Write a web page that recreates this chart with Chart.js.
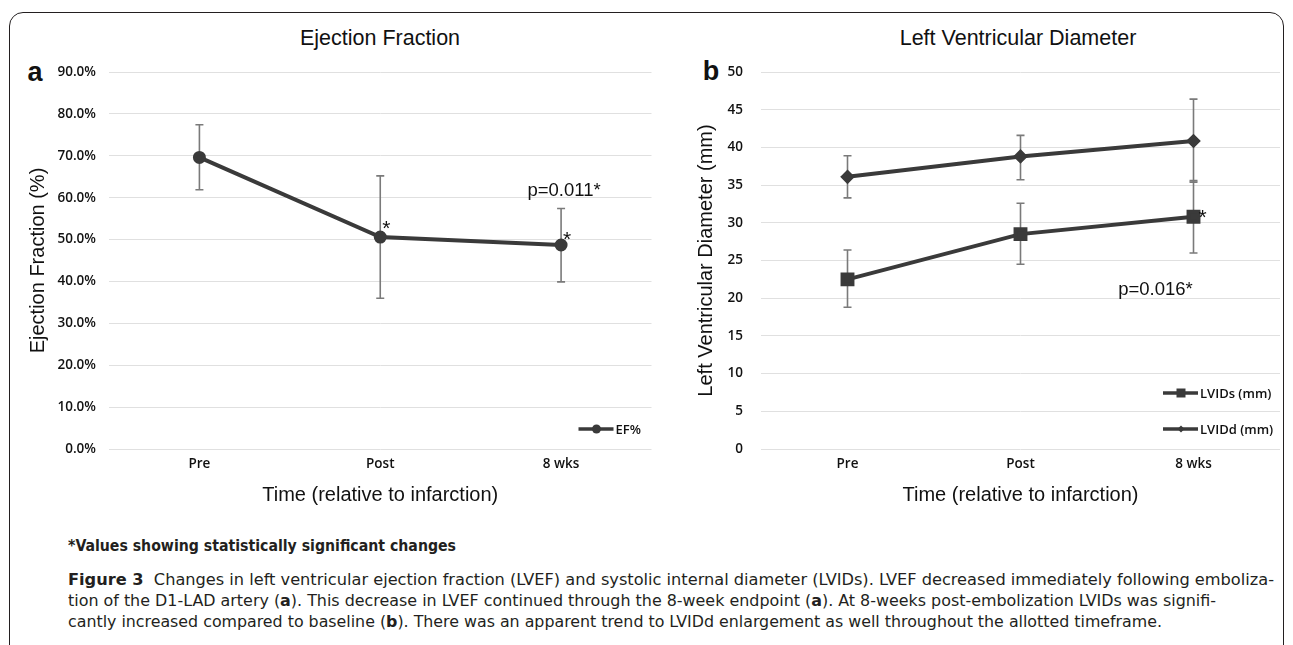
<!DOCTYPE html>
<html><head><meta charset="utf-8">
<script src="https://cdn.jsdelivr.net/npm/chart.js@4"></script>
<style>
html,body{margin:0;padding:0;background:#fff;width:1293px;height:645px;overflow:hidden;position:relative;}
#frame{position:absolute;left:9px;top:12px;width:1275px;height:660px;border:1px solid #231f20;border-radius:14px;box-sizing:border-box;}
.t{position:absolute;font-family:"Liberation Sans",Arial,sans-serif;color:#111;white-space:nowrap;transform:translate(-50%,-50%);}
canvas{position:absolute;top:0;}
#c1{left:0}
#c2{left:640px}
.cap{position:absolute;left:68px;font-family:"Liberation Sans Narrow","DejaVu Sans Condensed","Open Sans",sans-serif;font-size:16px;color:#231f20;white-space:nowrap;transform-origin:0 50%;line-height:18px;}
</style></head>
<body>
<div id="frame"></div>
<div class="t" style="left:380px;top:38px;font-size:21.5px;">Ejection Fraction</div>
<div class="t" style="left:1018px;top:38px;font-size:21.5px;">Left Ventricular Diameter</div>
<div class="t" style="left:35px;top:72px;font-size:27px;font-weight:bold;">a</div>
<div class="t" style="left:711px;top:71px;font-size:27px;font-weight:bold;">b</div>
<canvas id="c1" width="660" height="520"></canvas>
<canvas id="c2" width="653" height="520"></canvas>
<div class="cap" id="fn" data-w="388" style="top:537px;font-weight:bold;">*Values showing statistically significant changes</div>
<div class="cap" id="l1" data-w="1206" style="top:571px;"><b>Figure 3</b>&nbsp; Changes in left ventricular ejection fraction (LVEF) and systolic internal diameter (LVIDs). LVEF decreased immediately following emboliza-</div>
<div class="cap" id="l2" data-w="1148" style="top:592px;">tion of the D1-LAD artery (<b>a</b>). This decrease in LVEF continued through the 8-week endpoint (<b>a</b>). At 8-weeks post-embolization LVIDs was signifi-</div>
<div class="cap" id="l3" data-w="1094" style="top:613px;">cantly increased compared to baseline (<b>b</b>). There was an apparent trend to LVIDd enlargement as well throughout the allotted timeframe.</div>
<script>
// ---- data ----
const categories = ['Pre', 'Post', '8 wks'];
const efMean = [69.6, 50.6, 48.7];
const efLow  = [61.9, 36.0, 39.9];
const efHigh = [77.4, 65.2, 57.4];
const lvidsMean = [22.5, 28.5, 30.8];
const lvidsLow  = [18.8, 24.5, 26.0];
const lvidsHigh = [26.4, 32.6, 35.6];
const lviddMean = [36.1, 38.8, 40.85];
const lviddLow  = [33.3, 35.7, 35.4];
const lviddHigh = [38.9, 41.6, 46.4];
const efTicksMax = 90, efStep = 10;
const lvTicksMax = 50, lvStep = 5;
const efSigIdx = [1, 2];
const lvidsSigIdx = [2];
const efPText = 'p=0.011*', efPValuePos = 61.7;
const lvPText = 'p=0.016*', lvPValuePos = 21.1;

// ---- style ----
const LINE = '#3a3a3a';
const tickFont = {family: '"Open Sans","Liberation Sans",sans-serif', size: 13.5, weight: '600'};
const titleFont = {family: '"Liberation Sans",Arial,sans-serif', size: 20};
const gridColor = '#e0e0e0';

const errorBars = {
  id: 'errorBars',
  beforeDatasetsDraw(chart) {
    const {ctx} = chart, y = chart.scales.y;
    chart.data.datasets.forEach((ds, i) => {
      if (!ds.errLow) return;
      const meta = chart.getDatasetMeta(i);
      meta.data.forEach((pt, j) => {
        const px = pt.x;
        const yl = y.getPixelForValue(ds.errLow[j]), yh = y.getPixelForValue(ds.errHigh[j]);
        ctx.save();
        ctx.strokeStyle = '#7a7a7a'; ctx.lineWidth = 1.6;
        ctx.beginPath();
        ctx.moveTo(px, yl); ctx.lineTo(px, yh);
        ctx.moveTo(px - 4, yl); ctx.lineTo(px + 4, yl);
        ctx.moveTo(px - 4, yh); ctx.lineTo(px + 4, yh);
        ctx.stroke();
        ctx.restore();
      });
    });
  }
};

function drawMarker(ctx, style, x, y, r) {
  ctx.beginPath();
  if (style === 'circle') ctx.arc(x, y, r, 0, Math.PI * 2);
  else if (style === 'rect') ctx.rect(x - r, y - r, 2 * r, 2 * r);
  else { ctx.moveTo(x, y - r); ctx.lineTo(x + r, y); ctx.lineTo(x, y + r); ctx.lineTo(x - r, y); ctx.closePath(); }
  ctx.fill();
}

const extras = {
  id: 'extras',
  afterDraw(chart, args, opts) {
    const {ctx, chartArea} = chart, y = chart.scales.y;
    ctx.save();
    // legend
    (opts.legend || []).forEach(it => {
      const ds = chart.data.datasets[it.index];
      const ly = chartArea.bottom - it.dy;
      const tx = chartArea.right - opts.legendRight;
      ctx.strokeStyle = LINE; ctx.lineWidth = 3.5;
      ctx.beginPath(); ctx.moveTo(tx - 37, ly); ctx.lineTo(tx - 2, ly); ctx.stroke();
      ctx.fillStyle = LINE;
      drawMarker(ctx, it.marker, tx - 19, ly, it.mr);
      ctx.fillStyle = '#111';
      ctx.font = '600 13px "Open Sans","Liberation Sans",sans-serif';
      ctx.textBaseline = 'middle'; ctx.textAlign = 'left';
      ctx.fillText(ds.label, tx, ly + 1);
    });
    // asterisks
    ctx.fillStyle = '#111';
    ctx.font = '21px "Liberation Sans",Arial,sans-serif';
    ctx.textAlign = 'left'; ctx.textBaseline = 'alphabetic';
    (opts.stars || []).forEach(s => {
      const pt = chart.getDatasetMeta(s.ds).data[s.index];
      ctx.fillText('*', pt.x + s.dx, pt.y + s.dy);
    });
    // p value
    if (opts.p) {
      const pt = chart.getDatasetMeta(0).data[opts.p.index];
      ctx.font = '18.5px "Liberation Sans",Arial,sans-serif';
      ctx.textAlign = 'center'; ctx.textBaseline = 'middle';
      ctx.fillText(opts.p.text, pt.x + opts.p.dx, y.getPixelForValue(opts.p.value));
    }
    ctx.restore();
  }
};

function baseOptions(cfg) {
  return {
    responsive: false,
    animation: false,
    devicePixelRatio: 1,
    layout: {padding: {top: 72, left: 0, right: cfg.padRight, bottom: 0}},
    plugins: {
      legend: {display: false},
      tooltip: {enabled: false},
      title: {display: false},
      extras: cfg.extras
    },
    scales: {
      x: {
        type: 'category',
        offset: true,
        grid: {display: false, drawTicks: false},
        border: {display: false},
        ticks: {font: tickFont, color: '#111', padding: 7, maxRotation: 0},
        title: {display: true, text: 'Time (relative to infarction)', font: titleFont, color: '#111', padding: {top: 0, bottom: 13}},
        afterFit: s => { s.height = 71; }
      },
      y: {
        min: 0, max: cfg.max,
        grid: {color: gridColor, lineWidth: 1, drawTicks: false},
        border: {display: false},
        ticks: {stepSize: cfg.step, font: tickFont, color: '#111', padding: cfg.tickPad, callback: cfg.cb},
        title: {display: true, text: cfg.ytitle, font: titleFont, color: '#111', padding: {top: cfg.ytitlePad, bottom: 0}},
        afterFit: s => { s.width = cfg.yWidth; }
      }
    }
  };
}

new Chart(document.getElementById('c1'), {
  type: 'line',
  data: {
    labels: categories,
    datasets: [{
      label: 'EF%', data: efMean, errLow: efLow, errHigh: efHigh,
      borderColor: LINE, backgroundColor: LINE, borderWidth: 4,
      pointStyle: 'circle', pointRadius: 4.5, pointBackgroundColor: LINE, pointBorderColor: LINE, tension: 0
    }]
  },
  options: baseOptions({
    padRight: 8, max: efTicksMax, step: efStep, yWidth: 109, ytitlePad: 26, tickPad: 13,
    ytitle: 'Ejection Fraction (%)', cb: v => v.toFixed(1) + '%',
    extras: {
      legendRight: 36,
      legend: [{index: 0, dy: 20, marker: 'circle', mr: 4.5}],
      stars: efSigIdx.map((i, k) => ({ds: 0, index: i, dx: 2, dy: k === 0 ? -2 : 1})),
      p: {index: 2, text: efPText, value: efPValuePos, dx: 3}
    }
  }),
  plugins: [errorBars, extras]
});

new Chart(document.getElementById('c2'), {
  type: 'line',
  data: {
    labels: categories,
    datasets: [{
      label: 'LVIDs (mm)', data: lvidsMean, errLow: lvidsLow, errHigh: lvidsHigh,
      borderColor: LINE, backgroundColor: LINE, borderWidth: 4,
      pointStyle: 'rect', pointRadius: 7, pointBackgroundColor: LINE, pointBorderColor: LINE, tension: 0
    }, {
      label: 'LVIDd (mm)', data: lviddMean, errLow: lviddLow, errHigh: lviddHigh,
      borderColor: LINE, backgroundColor: LINE, borderWidth: 4,
      pointStyle: 'rectRot', pointRadius: 4.5, pointBackgroundColor: LINE, pointBorderColor: LINE, tension: 0
    }]
  },
  options: baseOptions({
    padRight: 13, max: lvTicksMax, step: lvStep, yWidth: 121, ytitlePad: 54, tickPad: 18,
    ytitle: 'Left Ventricular Diameter (mm)', cb: v => String(v),
    extras: {
      legendRight: 80,
      legend: [{index: 0, dy: 56, marker: 'rect', mr: 4.5}, {index: 1, dy: 20, marker: 'diamond', mr: 3.5}],
      stars: lvidsSigIdx.map(i => ({ds: 0, index: i, dx: 5, dy: 7})),
      p: {index: 2, text: lvPText, value: lvPValuePos, dx: -38}
    }
  }),
  plugins: [errorBars, extras]
});

// fit caption lines to the reference widths
document.querySelectorAll('.cap').forEach(el => {
  const w = el.getBoundingClientRect().width;
  const target = +el.dataset.w;
  el.style.transform = 'scaleX(' + (target / w) + ')';
});
</script>
</body></html>
